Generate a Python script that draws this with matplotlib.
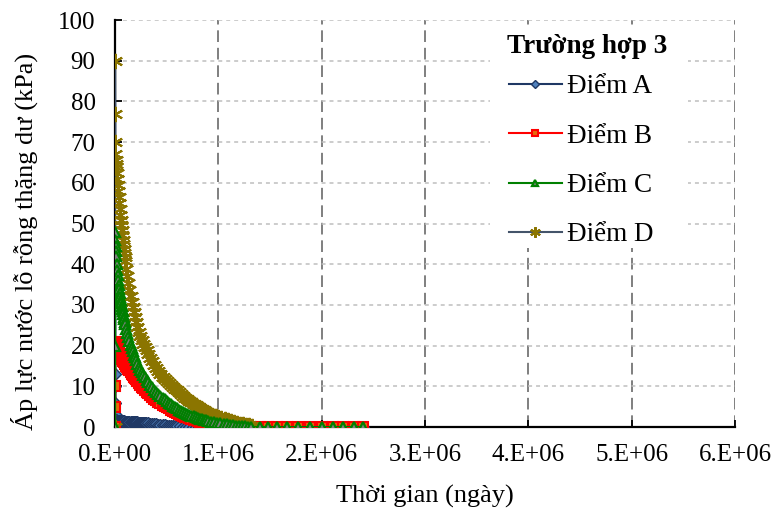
import matplotlib
matplotlib.use("Agg")
import matplotlib.pyplot as plt
from matplotlib.patches import Rectangle

plt.rcParams['font.family'] = ['Liberation Serif', 'DejaVu Serif']

# --- data: time in millions of days, pressure in kPa ---
t_A = [0, 0.001, 0.002, 0.003, 0.004, 0.005, 0.007, 0.010, 0.020, 0.030,
       0.040, 0.050, 0.060, 0.070, 0.080, 0.090, 0.100, 0.110, 0.120, 0.130,
       0.140, 0.150, 0.160, 0.170, 0.180, 0.190, 0.200, 0.210, 0.220, 0.230,
       0.240, 0.250, 0.260, 0.270, 0.280, 0.290, 0.300, 0.320, 0.340, 0.360,
       0.380, 0.400, 0.420, 0.440, 0.460, 0.480, 0.500, 0.520, 0.540, 0.560,
       0.580, 0.600, 0.630, 0.660, 0.690, 0.720, 0.750, 0.780, 0.810, 0.850,
       1.32, 1.40, 1.48, 1.57, 1.66, 1.77, 1.89, 2.00, 2.11, 2.21, 2.31, 2.40]
p_A = [0, 33, 13, 10, 6, 3, 1.8, 1.6, 1.5, 1.48,
       1.46, 1.44, 1.42, 1.4, 1.38, 1.36, 1.34, 1.32, 1.3, 1.28,
       1.26, 1.24, 1.22, 1.2, 1.18, 1.16, 1.14, 1.12, 1.1, 1.08,
       1.06, 1.04, 1.02, 1.0, 0.98, 0.96, 0.93, 0.88, 0.82, 0.76,
       0.7, 0.64, 0.58, 0.52, 0.47, 0.42, 0.37, 0.33, 0.29, 0.25,
       0.22, 0.19, 0.15, 0.12, 0.09, 0.07, 0.05, 0.03, 0.02, 0.01,
       0, 0, 0, 0, 0, 0, 0, 0, 0, 0, 0, 0]

t_B = [0, 0.001, 0.002, 0.003, 0.006, 0.010, 0.015, 0.020, 0.025, 0.030,
       0.035, 0.040, 0.045, 0.050, 0.060, 0.070, 0.080, 0.090, 0.100, 0.110,
       0.120, 0.130, 0.140, 0.150, 0.160, 0.170, 0.180, 0.190, 0.200, 0.215,
       0.230, 0.245, 0.260, 0.275, 0.290, 0.305, 0.320, 0.340, 0.360, 0.380,
       0.400, 0.420, 0.440, 0.460, 0.480, 0.500, 0.520, 0.540, 0.560, 0.580,
       0.600, 0.620, 0.640, 0.660, 0.680, 0.700, 0.720, 0.740, 0.760, 0.780,
       0.800, 0.820, 0.840, 0.860, 0.880, 0.900, 0.930, 0.960, 0.990, 1.020,
       1.050, 1.080, 1.110, 1.140, 1.170, 1.200, 1.23, 1.32, 1.40, 1.48,
       1.57, 1.66, 1.77, 1.89, 2.00, 2.11, 2.21, 2.31, 2.40]
p_B = [0, 5, 10, 20, 20.8, 20.5, 20.1, 19.7, 19.3, 18.9,
       18.6, 18.3, 18.0, 17.7, 17.2, 16.7, 16.3, 15.9, 15.5, 15.1,
       14.7, 14.3, 13.9, 13.5, 13.1, 12.7, 12.4, 12.0, 11.7, 11.2,
       10.7, 10.3, 9.9, 9.5, 9.1, 8.7, 8.35, 7.9, 7.45, 7.0,
       6.6, 6.2, 5.85, 5.5, 5.15, 4.85, 4.55, 4.25, 3.95, 3.7,
       3.45, 3.2, 2.95, 2.75, 2.55, 2.35, 2.15, 1.95, 1.8, 1.65,
       1.5, 1.35, 1.2, 1.08, 0.96, 0.85, 0.7, 0.57, 0.45, 0.35,
       0.27, 0.2, 0.14, 0.09, 0.05, 0.02, 0, 0, 0, 0,
       0, 0, 0, 0, 0, 0, 0, 0, 0]

t_C = [0, 0.001, 0.002, 0.004, 0.006, 0.008, 0.010, 0.015, 0.020, 0.025,
       0.030, 0.035, 0.040, 0.045, 0.050, 0.055, 0.060, 0.065, 0.070, 0.075,
       0.080, 0.085, 0.090, 0.095, 0.100, 0.110, 0.120, 0.130, 0.140, 0.150,
       0.160, 0.170, 0.180, 0.190, 0.200, 0.215, 0.230, 0.245, 0.260, 0.275,
       0.290, 0.305, 0.320, 0.340, 0.360, 0.380, 0.400, 0.420, 0.440, 0.460,
       0.480, 0.500, 0.520, 0.540, 0.560, 0.580, 0.600, 0.620, 0.640, 0.660,
       0.680, 0.700, 0.720, 0.740, 0.760, 0.780, 0.800, 0.820, 0.840, 0.860,
       0.880, 0.900, 0.930, 0.960, 0.990, 1.020, 1.050, 1.080, 1.110, 1.140,
       1.170, 1.200, 1.230, 1.260, 1.290, 1.32, 1.40, 1.48, 1.57, 1.66,
       1.77, 1.89, 2.00, 2.11, 2.21, 2.31, 2.40]
p_C = [0, 20, 48, 46, 44.5, 43.2, 42, 40, 38.6, 37.3,
       36.1, 35, 33.9, 32.9, 32, 31.2, 30.5, 29.8, 29.1, 28.4,
       27.7, 27.1, 26.5, 25.9, 25.3, 24.2, 23.1, 22.1, 21.1, 20.2,
       19.4, 18.6, 17.8, 17.1, 16.4, 15.6, 14.8, 14.1, 13.4, 12.8,
       12.2, 11.6, 11.1, 10.4, 9.8, 9.2, 8.7, 8.2, 7.7, 7.25,
       6.8, 6.4, 6.0, 5.6, 5.25, 4.9, 4.6, 4.3, 4.0, 3.75,
       3.5, 3.25, 3.0, 2.8, 2.6, 2.4, 2.2, 2.05, 1.9, 1.75,
       1.6, 1.47, 1.3, 1.15, 1.0, 0.87, 0.75, 0.64, 0.54, 0.45,
       0.37, 0.3, 0.23, 0.17, 0.11, 0, 0, 0, 0, 0,
       0, 0, 0, 0, 0, 0, 0]

t_D = [0, 0.001, 0.002, 0.003, 0.004, 0.006, 0.008, 0.010, 0.015, 0.020,
       0.025, 0.030, 0.035, 0.040, 0.045, 0.050, 0.055, 0.060, 0.065, 0.070,
       0.075, 0.080, 0.085, 0.090, 0.095, 0.100, 0.110, 0.120, 0.130, 0.140,
       0.150, 0.160, 0.170, 0.180, 0.190, 0.200, 0.215, 0.230, 0.245, 0.260,
       0.275, 0.290, 0.305, 0.320, 0.340, 0.360, 0.380, 0.400, 0.420, 0.440,
       0.460, 0.480, 0.500, 0.520, 0.540, 0.560, 0.580, 0.600, 0.620, 0.640,
       0.660, 0.680, 0.700, 0.720, 0.740, 0.760, 0.780, 0.800, 0.820, 0.840,
       0.860, 0.880, 0.900, 0.920, 0.940, 0.960, 0.980, 1.000, 1.030, 1.060,
       1.090, 1.120, 1.150, 1.180, 1.210, 1.240, 1.270, 1.300, 1.330]
p_D = [0, 90, 77, 70, 67, 65.5, 64.5, 64, 62.5, 61,
       59.5, 58, 56.5, 55, 53.5, 52.2, 50.9, 49.6, 48.4, 47.2,
       46, 44.9, 43.8, 42.7, 41.7, 40.7, 38.8, 37, 35.3, 33.7,
       32.2, 30.8, 29.5, 28.2, 27, 25.9, 24.6, 23.4, 22.3, 21.3,
       20.4, 19.6, 18.8, 18.0, 17.0, 16.1, 15.3, 14.5, 13.8, 13.1,
       12.4, 11.9, 11.4, 10.9, 10.4, 9.9, 9.4, 9.0, 8.5, 8.1,
       7.7, 7.25, 6.85, 6.45, 6.05, 5.7, 5.35, 5.0, 4.7, 4.4,
       4.1, 3.8, 3.55, 3.3, 3.05, 2.8, 2.6, 2.4, 2.1, 1.85,
       1.6, 1.4, 1.2, 1.0, 0.85, 0.7, 0.57, 0.46, 0.37]

x_ticks = [0, 1, 2, 3, 4, 5, 6]
x_labels = ['0.E+00', '1.E+06', '2.E+06', '3.E+06', '4.E+06', '5.E+06', '6.E+06']
y_ticks = list(range(0, 101, 10))

fig = plt.figure(figsize=(7.73, 5.21), dpi=100)
ax = fig.add_axes([0.1488, 0.1804, 0.802, 0.7812])

lA, = ax.plot(t_A, p_A, color='#1F3864', lw=1.5, marker='D', ms=6,
              mec='#1F3864', mfc='#4F81BD', mew=1.0, label='Điểm A', zorder=3)
lB, = ax.plot(t_B, p_B, color='#FF0000', lw=1.5, marker='s', ms=6.5,
              mec='#FF0000', mfc='#E46C0A', mew=1.5, label='Điểm B', zorder=4)
lD, = ax.plot(t_D, p_D, color='#44546A', lw=1.5, marker=(6, 2, 0), ms=11,
              mec='#8B7500', mfc='#8B7500', mew=1.5, label='Điểm D', zorder=5)
lC, = ax.plot(t_C, p_C, color='#008000', lw=1.5, marker='^', ms=7,
              mec='#008000', mfc='#7F7F7F', mew=1.6, label='Điểm C', zorder=6)

ax.set_xlim(0, 6)
ax.set_ylim(0, 100)
ax.set_xticks(x_ticks)
ax.set_xticklabels(x_labels)
ax.set_yticks(y_ticks)

ax.yaxis.grid(True, color='#BFBFBF', lw=1.1, dashes=(2.6, 2.6))
ax.xaxis.grid(True, color='#7F7F7F', lw=1.4, dashes=(6, 3))
ax.set_axisbelow(True)

for s in ['top', 'right']:
    ax.spines[s].set_visible(False)
for s in ['left', 'bottom']:
    ax.spines[s].set_linewidth(1.6)
    ax.spines[s].set_color('black')
    ax.spines[s].set_zorder(2)

ax.tick_params(axis='both', direction='in', length=5, width=1.3,
               labelsize=18, colors='black')
ax.tick_params(axis='x', pad=12)
ax.tick_params(axis='y', pad=14)

ax.set_xlabel('Thời gian (ngày)', fontsize=19, labelpad=14)
ax.set_ylabel('Áp lực nước lỗ rỗng thặng dư (kPa)', fontsize=19)
ax.yaxis.set_label_coords(-0.125, 0.455)

# white block behind the legend area (grid hidden there, like the original)
ax.add_patch(Rectangle((0.605, 0.44), 0.32, 0.545, transform=ax.transAxes,
                       facecolor='white', edgecolor='none', zorder=9))

leg = ax.legend(handles=[lA, lB, lC, lD],
                loc='upper left', bbox_to_anchor=(0.605, 0.913),
                fontsize=19.5, frameon=False, labelspacing=0.9,
                handlelength=1.95, handletextpad=0.2, borderpad=0.2,
                markerscale=0.7)
leg.set_zorder(10)
ax.text(0.762, 0.935, 'Trường hợp 3', transform=ax.transAxes,
        ha='center', va='center', fontsize=19.5, fontweight='bold', zorder=11)

plt.savefig('out.png', dpi=100)
